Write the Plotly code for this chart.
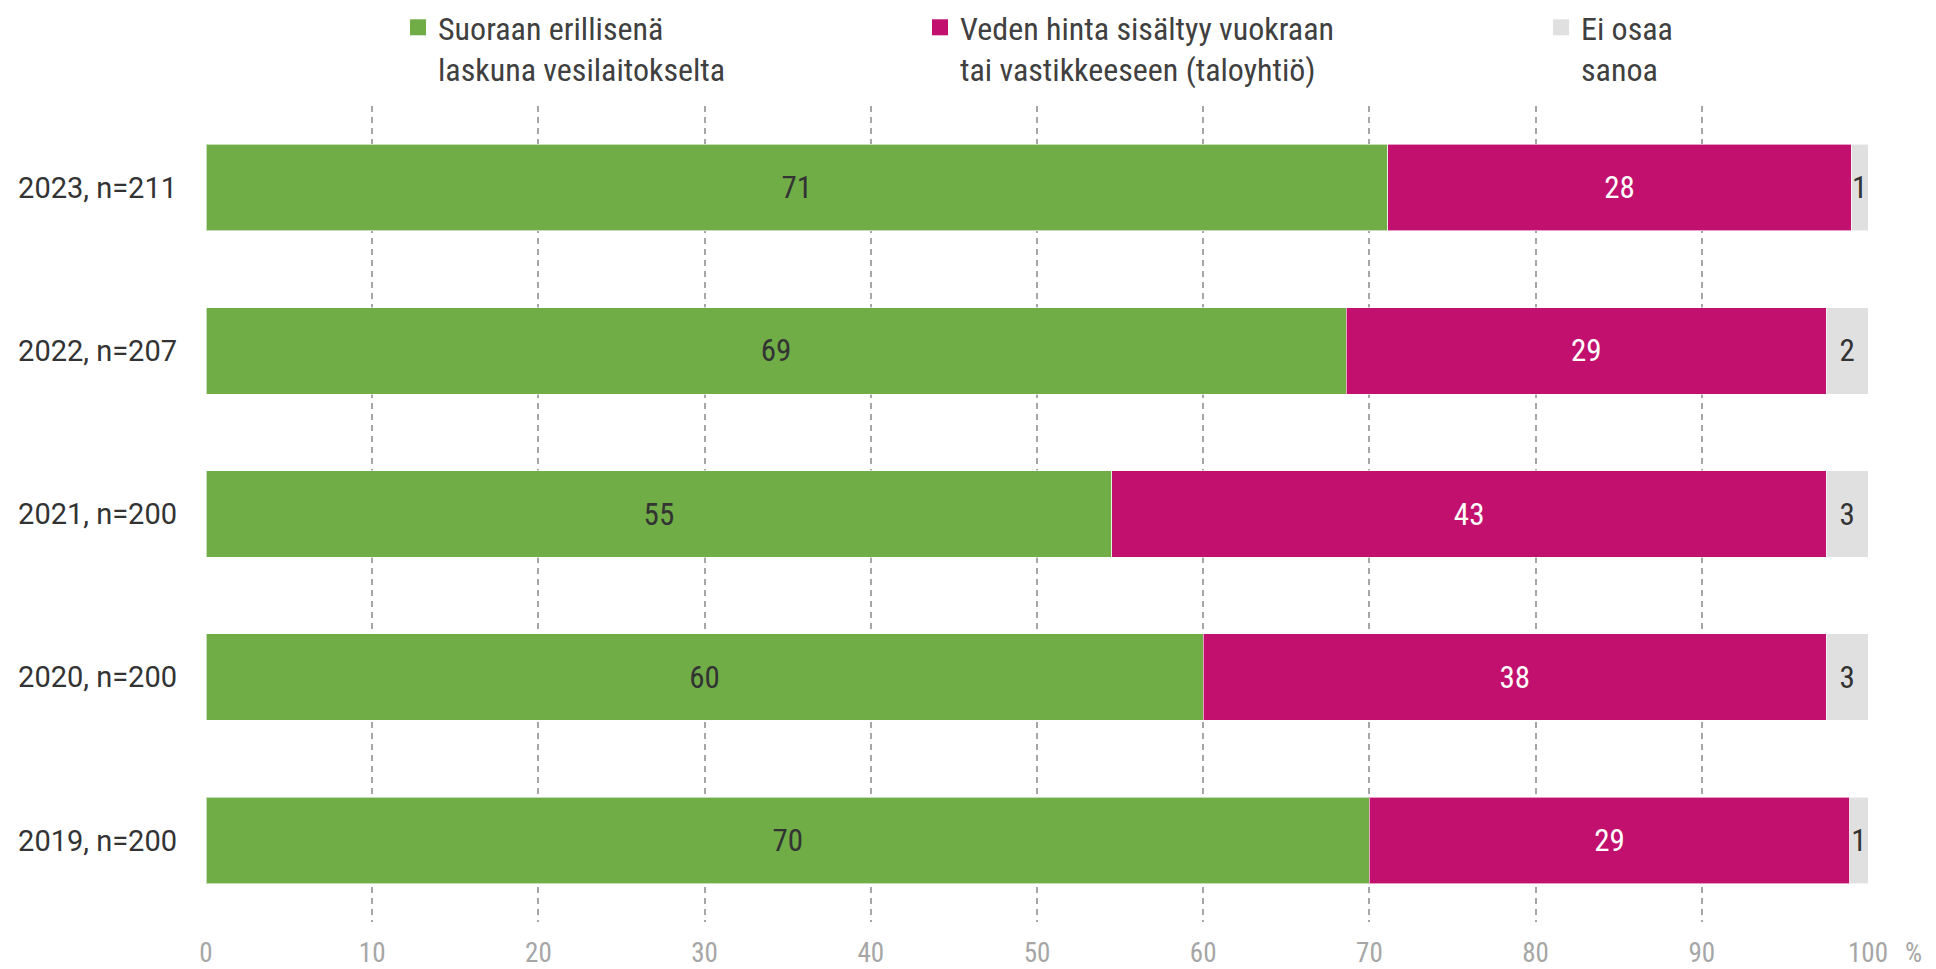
import plotly.graph_objects as go

categories = ["2023, n=211", "2022, n=207", "2021, n=200", "2020, n=200", "2019, n=200"]
series_names = [
    "Suoraan erillisenä<br>laskuna vesilaitokselta",
    "Veden hinta sisältyy vuokraan<br>tai vastikkeeseen (taloyhtiö)",
    "Ei osaa<br>sanoa",
]
direct_bill = [71.1, 68.6, 54.5, 60.0, 70.0]
in_rent = [27.9, 28.9, 43.0, 37.5, 28.9]
dont_know = [1.0, 2.5, 2.5, 2.5, 1.1]
direct_labels = ["71", "69", "55", "60", "70"]
rent_labels = ["28", "29", "43", "38", "29"]
dk_labels = ["1", "2", "3", "3", "1"]
x_ticks = [0, 10, 20, 30, 40, 50, 60, 70, 80, 90, 100]

colors = ["#70AD47", "#C2106E", "#E0E0E0"]
text_colors = ["#333333", "#FFFFFF", "#333333"]
COND = "Liberation Sans Narrow, Roboto Condensed, DejaVu Sans Condensed, Arial Narrow, sans-serif"

fig = go.Figure()
data = [direct_bill, in_rent, dont_know]
labels = [direct_labels, rent_labels, dk_labels]
legends = ["legend", "legend2", "legend3"]
for i in range(3):
    fig.add_trace(go.Bar(
        y=categories, x=data[i], orientation="h",
        name=series_names[i], legendgroup=str(i), showlegend=False,
        marker=dict(color=colors[i], line=dict(color="rgba(255,255,255,0.6)", width=1)),
        text=labels[i], textposition="inside", insidetextanchor="middle",
        textangle=0, constraintext="none",
        textfont=dict(family=COND, size=31, color=text_colors[i]),
        hoverinfo="skip",
    ))
    # legend entry with a larger square swatch
    fig.add_trace(go.Scatter(
        x=[None], y=[None], mode="markers", name=series_names[i],
        legendgroup=str(i), legend=legends[i], showlegend=True,
        marker=dict(symbol="square", size=16, color=colors[i]),
        hoverinfo="skip",
    ))

W, H = 1936, 969
ml, mr, mt, mb = 206, 68, 106, 47
pw = W - ml - mr
ph = H - mt - mb

def lx(px):
    return (px - ml) / pw

legend_common = dict(
    orientation="h", yref="container", y=1.0, yanchor="top", xanchor="left",
    font=dict(family=COND, size=32, color="#404040"), valign="top",
    bgcolor="rgba(0,0,0,0)", itemclick=False, itemdoubleclick=False,
)
fig.update_layout(
    width=W, height=H,
    margin=dict(l=ml, r=mr, t=mt, b=mb, autoexpand=False),
    paper_bgcolor="white", plot_bgcolor="white",
    barmode="stack", bargap=0.47,
    uniformtext=dict(minsize=31, mode="show"),
    showlegend=True,
    legend=dict(legend_common, x=lx(398)),
    legend2=dict(legend_common, x=lx(920)),
    legend3=dict(legend_common, x=lx(1541)),
    xaxis=dict(
        range=[0, 100], tickvals=x_ticks, showgrid=True,
        gridcolor="#A6A6A6", gridwidth=1.5, griddash="6px,5px",
        zeroline=False, showline=False, ticks="",
        tickfont=dict(family=COND, size=27, color="#A6A6A6"),
        ticklabelstandoff=12, fixedrange=True, automargin=False,
    ),
    yaxis=dict(
        range=[4.5, -0.5], showgrid=False, zeroline=False, showline=False,
        ticks="", tickfont=dict(family="Roboto", size=29, color="#333333"),
        ticklabelstandoff=28, fixedrange=True, automargin=False,
    ),
    annotations=[dict(
        text="%", xref="paper", yref="paper", x=lx(1913), y=0,
        yshift=-31, xanchor="center", yanchor="middle", showarrow=False,
        font=dict(family=COND, size=27, color="#A6A6A6"),
    )],
)

fig.write_html("out.html", config={"displayModeBar": False},
               post_script="document.body.style.margin='0';")
